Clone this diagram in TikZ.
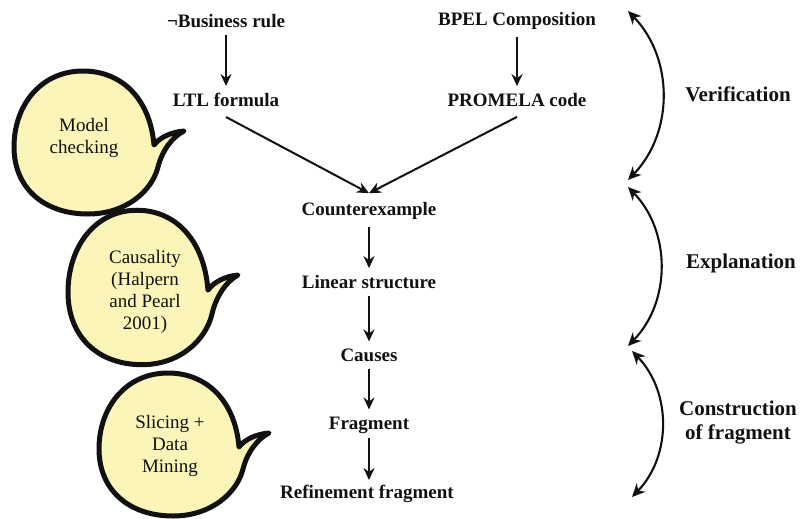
\documentclass[tikz,border=0pt]{standalone}
\usepackage{fontspec}
\setmainfont{Liberation Serif}
\usetikzlibrary{arrows.meta, positioning}
\definecolor{bubbleyellow}{HTML}{FBF5BA}
\definecolor{inkblack}{HTML}{111111}

\tikzset{
  stagetext/.style={font=\fontsize{19}{22}\selectfont\bfseries, text=inkblack, inner xsep=2pt, inner ysep=7pt},
  phasetext/.style={font=\fontsize{21}{24}\selectfont\bfseries, text=inkblack, align=center},
  bubbletext/.style={font=\fontsize{19}{22}\selectfont, text=inkblack, align=center},
  flow/.style={-{Stealth[length=12pt,width=11pt,inset=4pt]}, line width=2pt, draw=inkblack},
  phase/.style={{Stealth[length=13pt,width=12pt,inset=4pt]}-{Stealth[length=13pt,width=12pt,inset=4pt]}, line width=2.1pt, draw=inkblack, bend left=44},
  bubble/.pic={
    \draw[line width=5pt, draw=inkblack, fill=bubbleyellow, line join=round]
      (68,2) .. controls (64,-45) and (35,-72) .. (-3,-72)
      .. controls (-45,-72) and (-72,-38) .. (-72,4)
      .. controls (-72,45) and (-42,71) .. (2,71)
      .. controls (40,71) and (66,48) .. (72,24)
      .. controls (76,8) and (86,-6) .. (98,-12)
      .. controls (86,-11) and (74,-6) .. (68,2) -- cycle;
  }
}

\begin{document}
\begin{tikzpicture}[x=1pt, y=-1pt]
\useasboundingbox (0,0) rectangle (803,519);

% Speech bubbles on the left
\pic at (86,143) {bubble};
\pic[yscale=1.08] at (140,288) {bubble};
\pic at (171,445) {bubble};
\node[bubbletext] (mc) at (84,138) {Model\\checking};
\node[bubbletext] (hp) at (145,292) {Causality\\(Halpern\\and Pearl\\2001)};
\node[bubbletext] (dm) at (170,446) {Slicing +\\Data\\Mining};

% Verification inputs
\node[stagetext] (neg) at (226,21) {¬Business rule};
\node[stagetext] (bpel) at (517,21) {BPEL Composition};
\node[stagetext] (ltl) at (226,100) {LTL formula};
\node[stagetext] (promela) at (517,100) {PROMELA code};

% Explanation and fragment chain
\node[stagetext] (ce) at (369,211) {Counterexample};
\node[stagetext] (lin) at (369,282) {Linear structure};
\node[stagetext] (causes) at (369,355) {Causes};
\node[stagetext] (frag) at (369,425) {Fragment};
\node[stagetext] (refine) at (367,494) {Refinement fragment};

% Draw connections
\draw[flow] (neg) -- (ltl);
\draw[flow] (bpel) -- (promela);
\draw[flow] ([yshift=-3pt]ltl.south) -- ([yshift=2pt]ce.north);
\draw[flow] ([yshift=-3pt]promela.south) -- ([yshift=2pt]ce.north);
\draw[flow] (ce) -- (lin);
\draw[flow] (lin) -- (causes);
\draw[flow] (causes) -- (frag);
\draw[flow] ([yshift=3pt]frag.south) -- ([yshift=-2pt]frag.south |- refine.north);

% Phases on the right
\coordinate (v1a) at (628,11);
\coordinate (v1b) at (628,180);
\coordinate (v2a) at (628,187);
\coordinate (v2b) at (628,346);
\coordinate (v3a) at (632,351);
\coordinate (v3b) at (632,497);
\draw[phase] (v1a) to (v1b);
\draw[phase] (v2a) to (v2b);
\draw[phase] (v3a) to (v3b);
\node[phasetext] (verif) at (738,94) {Verification};
\node[phasetext] (expl) at (741,263) {Explanation};
\node[phasetext] (constr) at (738,423) {Construction\\of fragment};
\end{tikzpicture}
\end{document}
